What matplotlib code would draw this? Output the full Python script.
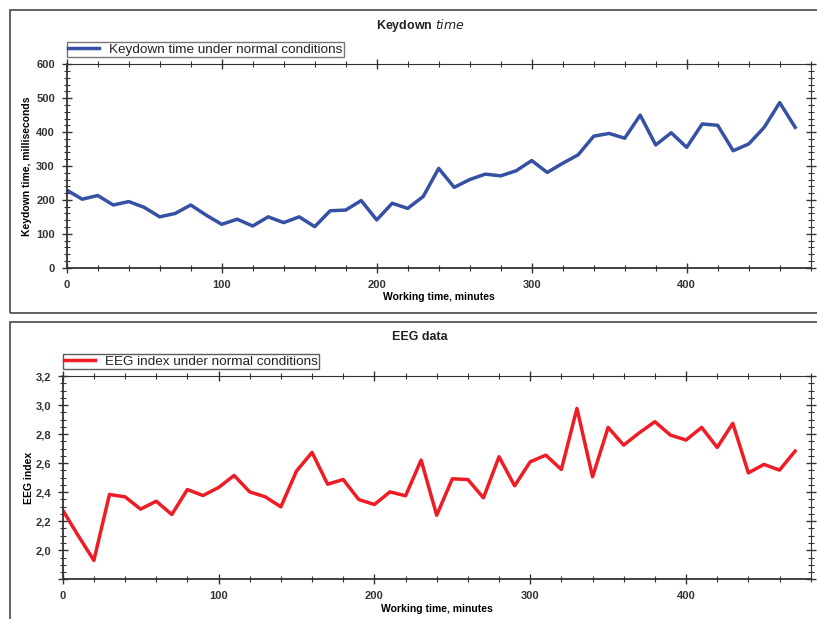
import matplotlib
matplotlib.use("Agg")
import matplotlib.pyplot as plt
from matplotlib.ticker import MultipleLocator, FuncFormatter
from matplotlib.patches import Rectangle

plt.rcParams['font.family'] = ['Liberation Sans', 'DejaVu Sans']

minutes = list(range(0, 480, 10))
keydown_ms = [229, 202, 213, 185, 195, 178, 150, 160, 185, 155,
              128, 143, 123, 150, 133, 150, 121, 168, 170, 198,
              141, 190, 175, 210, 293, 237, 260, 276, 271, 286,
              316, 281, 308, 333, 388, 396, 382, 450, 362, 398,
              355, 424, 420, 345, 365, 414, 487, 414]
eeg_index = [2.276, 2.10, 1.93, 2.384, 2.368, 2.283, 2.338, 2.246, 2.418, 2.377,
             2.432, 2.515, 2.402, 2.368, 2.299, 2.545, 2.674, 2.455, 2.487, 2.349,
             2.315, 2.402, 2.375, 2.621, 2.241, 2.492, 2.487, 2.361, 2.644, 2.444,
             2.609, 2.655, 2.556, 2.977, 2.506, 2.846, 2.724, 2.809, 2.885, 2.793,
             2.759, 2.846, 2.708, 2.874, 2.533, 2.591, 2.552, 2.683]

W, H = 817, 619
fig = plt.figure(figsize=(W / 100, H / 100), dpi=100)

def fx(px):
    return px / W

def fy(py):
    return 1 - py / H

# panel frames
fig.patches.append(Rectangle((fx(10), fy(312.5)), fx(830), fy(10) - fy(312.5),
                             transform=fig.transFigure, facecolor='none',
                             edgecolor='#555555', linewidth=1.3, zorder=1))
fig.patches.append(Rectangle((fx(10), fy(640)), fx(830), fy(321.5) - fy(640),
                             transform=fig.transFigure, facecolor='none',
                             edgecolor='#555555', linewidth=1.3, zorder=1))

tick_color = '#333333'

def style_axes(ax):
    ax.patch.set_alpha(0)
    for s in ['left', 'bottom']:
        ax.spines[s].set_linewidth(1.3)
        ax.spines[s].set_color('#333333')
    for s in ['top', 'right']:
        ax.spines[s].set_linewidth(0.8)
        ax.spines[s].set_color('#333333')
    ax.tick_params(which='major', direction='inout', length=7, width=1.0,
                   colors=tick_color, labelsize=8, top=True, right=True)
    ax.tick_params(which='minor', direction='inout', length=4, width=0.8,
                   colors=tick_color, top=True, right=True)
    ax.tick_params(which='both', labeltop=False, labelright=False)
    ax.tick_params(axis='x', pad=5)
    ax.tick_params(axis='y', pad=5)
    for lab in ax.get_xticklabels() + ax.get_yticklabels():
        lab.set_fontweight('bold')

def add_legend(ax, edge):
    leg = ax.legend(loc='lower left', bbox_to_anchor=(0.0, 1.035), frameon=True,
                    fancybox=False, borderpad=0.1, handlelength=2.3,
                    fontsize=9.7, borderaxespad=0.0, handletextpad=0.75)
    leg.get_frame().set_edgecolor(edge)
    leg.get_frame().set_linewidth(1.0)
    for t in leg.get_texts():
        t.set_color('#222222')
    return leg

# ---- top chart ----
ax1 = fig.add_axes([fx(66.7), fy(267.7), fx(810.7) - fx(66.7), fy(64.3) - fy(267.7)])
ax1.plot(minutes, keydown_ms, color='#3650a4', linewidth=2.5,
         label='Keydown time under normal conditions')
ax1.set_xlim(0, 480)
ax1.set_ylim(0, 600)
ax1.xaxis.set_major_locator(MultipleLocator(100))
ax1.xaxis.set_minor_locator(MultipleLocator(20))
ax1.yaxis.set_major_locator(MultipleLocator(100))
ax1.yaxis.set_minor_locator(MultipleLocator(20))
style_axes(ax1)
ax1.set_xlabel('Working time, minutes', fontsize=7.5, fontweight='bold', labelpad=2)
ax1.set_ylabel('Keydown time, milliseconds', fontsize=7.5, fontweight='bold', labelpad=3)
add_legend(ax1, '#555555')
fig.text(fx(420), fy(25), 'Keydown $\\mathit{time}$', ha='center', va='center',
         fontsize=9, fontweight='bold', color='#222222')

# ---- bottom chart ----
ax2 = fig.add_axes([fx(62.7), fy(579.3), fx(810.7) - fx(62.7), fy(376) - fy(579.3)])
ax2.plot(minutes, eeg_index, color='#ee1c24', linewidth=2.5,
         label='EEG index under normal conditions')
ax2.set_xlim(0, 480)
ax2.set_ylim(1.8, 3.2)
ax2.xaxis.set_major_locator(MultipleLocator(100))
ax2.xaxis.set_minor_locator(MultipleLocator(20))
ax2.yaxis.set_major_locator(MultipleLocator(0.2))
ax2.yaxis.set_minor_locator(MultipleLocator(0.05))
ax2.yaxis.set_major_formatter(FuncFormatter(
    lambda v, p: ('%.1f' % v).replace('.', ',') if v > 1.9 else ''))
style_axes(ax2)
ax2.set_xlabel('Working time, minutes', fontsize=7.5, fontweight='bold', labelpad=2)
ax2.set_ylabel('EEG index', fontsize=7.5, fontweight='bold', labelpad=1)
add_legend(ax2, '#333333')
fig.text(fx(420), fy(337), 'EEG data', ha='center', va='center',
         fontsize=9, fontweight='bold', color='#222222')

fig.savefig('out.png', dpi=100)
